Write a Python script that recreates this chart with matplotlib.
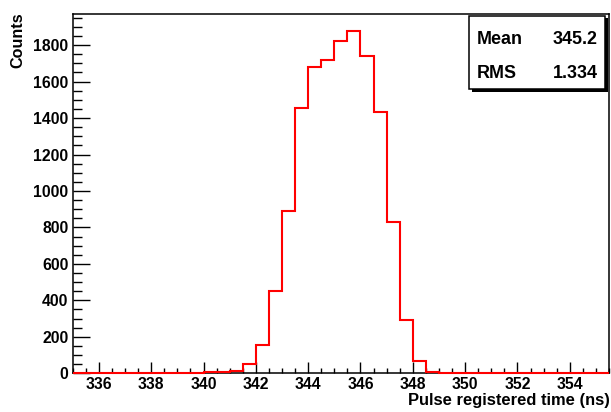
import numpy as np
import matplotlib
matplotlib.use("Agg")
import matplotlib.pyplot as plt
from matplotlib.patches import Rectangle
from matplotlib.ticker import MultipleLocator

plt.rcParams['font.family'] = ['Liberation Sans', 'DejaVu Sans']
plt.rcParams['font.weight'] = 'bold'

# Histogram of pulse registered times, 0.5 ns bins from 335 to 355.5 ns
bin_low = 335.0
bin_width = 0.5
counts = [0, 0, 0, 0, 0, 0, 0, 0, 0,
          3, 5, 5, 15, 52, 153, 454, 889, 1456, 1679, 1720,
          1822, 1877, 1740, 1433, 832, 293, 70, 5,
          0, 0, 0, 0, 0, 0, 0, 0, 0, 0, 0, 0, 0]
stat_names = ["Mean", "RMS"]
stat_values = ["345.2", "1.334"]
x_title = "Pulse registered time (ns)"
y_title = "Counts"

edges = bin_low + bin_width * np.arange(len(counts) + 1)

W, H = 611, 412
fig = plt.figure(figsize=(W / 100, H / 100), dpi=100)
ax = fig.add_axes([72.7 / W, 1 - 373.3 / H, (609 - 72.7) / W, (373.3 - 14) / H])

ax.stairs(counts, edges, color='#ff0000', linewidth=1.5, baseline=0,
          zorder=5, clip_on=False)

ax.set_xlim(edges[0], edges[-1])
ax.set_ylim(0, 1.05 * max(counts))

ax.xaxis.set_major_locator(MultipleLocator(2))
ax.xaxis.set_minor_locator(MultipleLocator(0.5))
ax.yaxis.set_major_locator(MultipleLocator(200))
ax.yaxis.set_minor_locator(MultipleLocator(50))
ax.set_yticks(np.arange(0, 1801, 200))

ax.tick_params(axis='both', which='both', direction='in', width=1.0,
               top=False, right=False, labelsize=11.3, colors='black')
ax.tick_params(axis='x', which='major', length=7.7, pad=3)
ax.tick_params(axis='x', which='minor', length=3.6)
ax.tick_params(axis='y', which='major', length=12, pad=3)
ax.tick_params(axis='y', which='minor', length=6.5)
for lab in ax.get_xticklabels() + ax.get_yticklabels():
    lab.set_fontweight('bold')

for sp in ax.spines.values():
    sp.set_linewidth(1.1)

fig.text(610 / W, 1 - 401 / H, x_title, ha='right', va='center',
         fontsize=11.9, fontweight='bold')
fig.text(17.5 / W, 1 - 12 / H, y_title, ha='center', va='top', rotation=90,
         fontsize=11.6, fontweight='bold')

# Statistics box with drop shadow
bx0, bx1, by0, by1 = 469, 605, 16, 89
sh = 2.5
fig.patches.append(Rectangle(((bx0 + sh) / W, 1 - (by1 + sh) / H),
                             (bx1 - bx0) / W, (by1 - by0) / H,
                             transform=fig.transFigure, facecolor='black',
                             edgecolor='black', linewidth=0, zorder=10))
fig.patches.append(Rectangle((bx0 / W, 1 - by1 / H),
                             (bx1 - bx0) / W, (by1 - by0) / H,
                             transform=fig.transFigure, facecolor='white',
                             edgecolor='black', linewidth=1.1, zorder=11))
for i, (name, val) in enumerate(zip(stat_names, stat_values)):
    yc = 1 - (39 + 35 * i) / H
    fig.text(477 / W, yc, name, ha='left', va='center', fontsize=12.9,
             fontweight='bold', zorder=12)
    fig.text(598 / W, yc, val, ha='right', va='center', fontsize=12.9,
             fontweight='bold', zorder=12)

fig.savefig("out.png", dpi=100, facecolor='white')
